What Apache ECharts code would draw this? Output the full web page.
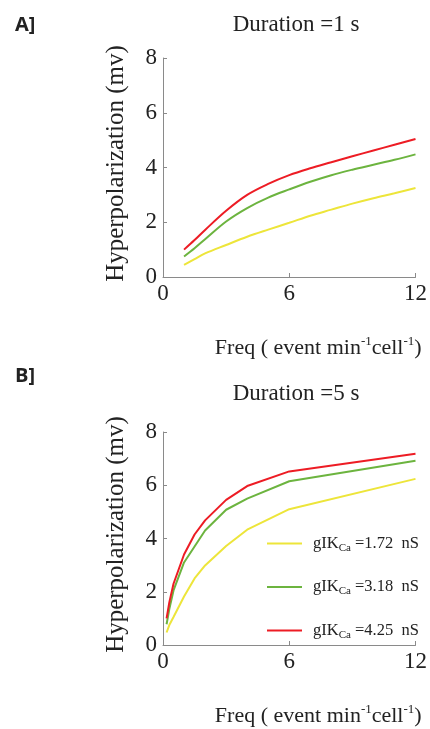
<!DOCTYPE html>
<html>
<head>
<meta charset="utf-8">
<script src="https://cdn.jsdelivr.net/npm/echarts@6/dist/echarts.min.js"></script>
<style>
html,body{margin:0;padding:0;background:#fff;}
#c{width:430px;height:729px;}
</style>
</head>
<body>
<div id="c"></div>
<script>
// Panel A: Duration = 1 s
var freqA = [1, 1.5, 2, 3, 4, 5, 6, 7, 8, 9, 10, 11, 12];
var redA = [1.0, 1.35, 1.72, 2.42, 3.0, 3.4, 3.72, 3.97, 4.19, 4.41, 4.62, 4.83, 5.04];
var greenA = [0.75, 1.05, 1.38, 2.03, 2.52, 2.9, 3.2, 3.48, 3.72, 3.92, 4.1, 4.28, 4.48];
var yellowA = [0.44, 0.65, 0.86, 1.17, 1.47, 1.73, 1.98, 2.24, 2.46, 2.68, 2.88, 3.06, 3.25];

// Panel B: Duration = 5 s
var freqB = [0.17, 0.3, 0.5, 1, 1.5, 2, 3, 4, 6, 12];
var redB = [1.0, 1.6, 2.3, 3.4, 4.15, 4.68, 5.45, 5.97, 6.52, 7.18];
var greenB = [0.78, 1.35, 2.05, 3.1, 3.7, 4.3, 5.08, 5.5, 6.15, 6.92];
var yellowB = [0.47, 0.75, 1.05, 1.82, 2.5, 2.99, 3.72, 4.33, 5.1, 6.24];

var xTicks = [0, 6, 12];
var yTicks = [0, 2, 4, 6, 8];
var legendNames = ['1.72', '3.18', '4.25'];

var titles = ['Duration =1 s', 'Duration =5 s'];
var panels = ['A]', 'B]'];
var yName = 'Hyperpolarization (mv)';

var cRed = '#ed1c24', cGreen = '#6cb43f', cYellow = '#ede53a';
var serif = '"Liberation Serif", "DejaVu Serif", serif';
var axisGray = '#8a8a8a';

function pairs(xs, ys) { return xs.map(function (x, i) { return [x, ys[i]]; }); }

function xAxis(idx) {
  return {
    type: 'value', gridIndex: idx, min: 0, max: 12, interval: 6,
    axisLine: { show: true, lineStyle: { color: axisGray, width: 1 } },
    axisTick: { show: true, inside: true, length: 4, lineStyle: { color: axisGray } },
    splitLine: { show: false },
    axisLabel: { fontFamily: serif, fontSize: 23, color: '#222', margin: 5 },
    name: '{t|Freq ( event min}{s|-1}{t|cell}{s|-1}{t|)}',
    nameLocation: 'middle', nameGap: 58,
    nameTextStyle: {
      padding: [0, 0, 0, 58],
      rich: {
        t: { fontFamily: serif, fontSize: 22, color: '#222', lineHeight: 26 },
        s: { fontFamily: serif, fontSize: 13, color: '#222', verticalAlign: 'top', lineHeight: 26, padding: [0, 0, 12, 0] }
      }
    }
  };
}
function yAxis(idx) {
  return {
    type: 'value', gridIndex: idx, min: 0, max: 8, interval: 2,
    axisLine: { show: true, lineStyle: { color: axisGray, width: 1 } },
    axisTick: { show: true, inside: true, length: 4, lineStyle: { color: axisGray } },
    splitLine: { show: false },
    axisLabel: { fontFamily: serif, fontSize: 23, color: '#222', margin: 6, padding: [8, 0, 0, 0] },
    name: yName, nameLocation: 'middle', nameGap: 34, nameRotate: 90,
    nameTextStyle: { fontFamily: serif, fontSize: 25, color: '#222', padding: [0, 0, 0, 8] }
  };
}
function line(name, xi, data, color, smooth) {
  return {
    type: 'line', name: name, xAxisIndex: xi, yAxisIndex: xi,
    data: data, symbol: 'none', smooth: smooth,
    lineStyle: { color: color, width: 2 }, itemStyle: { color: color },
    emphasis: { disabled: true }
  };
}

var chart = echarts.init(document.getElementById('c'), null, { renderer: 'canvas' });
chart.setOption({
  animation: false,
  backgroundColor: '#fff',
  title: [
    { text: panels[0], left: 10, top: 10, textStyle: { fontFamily: '"Open Sans", sans-serif', fontWeight: 'bold', fontSize: 20, color: '#222' } },
    { text: titles[0], left: 291, textAlign: 'center', top: 8, textStyle: { fontFamily: serif, fontWeight: 'normal', fontSize: 23, color: '#222' } },
    { text: panels[1], left: 10, top: 361, textStyle: { fontFamily: '"Open Sans", sans-serif', fontWeight: 'bold', fontSize: 20, color: '#222' } },
    { text: titles[1], left: 291, textAlign: 'center', top: 377, textStyle: { fontFamily: serif, fontWeight: 'normal', fontSize: 23, color: '#222' } }
  ],
  grid: [
    { left: 163, right: 12, top: 58, height: 219 },
    { left: 163, right: 12, top: 432, height: 219 }
  ],
  xAxis: [xAxis(0), xAxis(1)],
  yAxis: [yAxis(0), yAxis(1)],
  legend: {
    orient: 'vertical', left: 262, top: 530, itemWidth: 35, itemHeight: 2, itemGap: 25,
    icon: 'rect',
    data: ['y', 'g', 'r'],
    formatter: function (n) {
      var v = n === 'y' ? legendNames[0] : (n === 'g' ? legendNames[1] : legendNames[2]);
      return '{a|gIK}{b|Ca}{a| =' + v + '  nS}';
    },
    textStyle: {
      padding: [0, 0, 0, 6],
      rich: {
        a: { fontFamily: serif, fontSize: 16.5, color: '#222', lineHeight: 20 },
        b: { fontFamily: serif, fontSize: 11, color: '#222', lineHeight: 20, verticalAlign: 'bottom', padding: [6, 0, 0, 0] }
      }
    }
  },
  series: [
    line('y1', 0, pairs(freqA, yellowA), cYellow, 0.35),
    line('g1', 0, pairs(freqA, greenA), cGreen, 0.35),
    line('r1', 0, pairs(freqA, redA), cRed, 0.35),
    line('y', 1, pairs(freqB, yellowB), cYellow, false),
    line('g', 1, pairs(freqB, greenB), cGreen, false),
    line('r', 1, pairs(freqB, redB), cRed, false)
  ]
});
</script>
</body>
</html>
